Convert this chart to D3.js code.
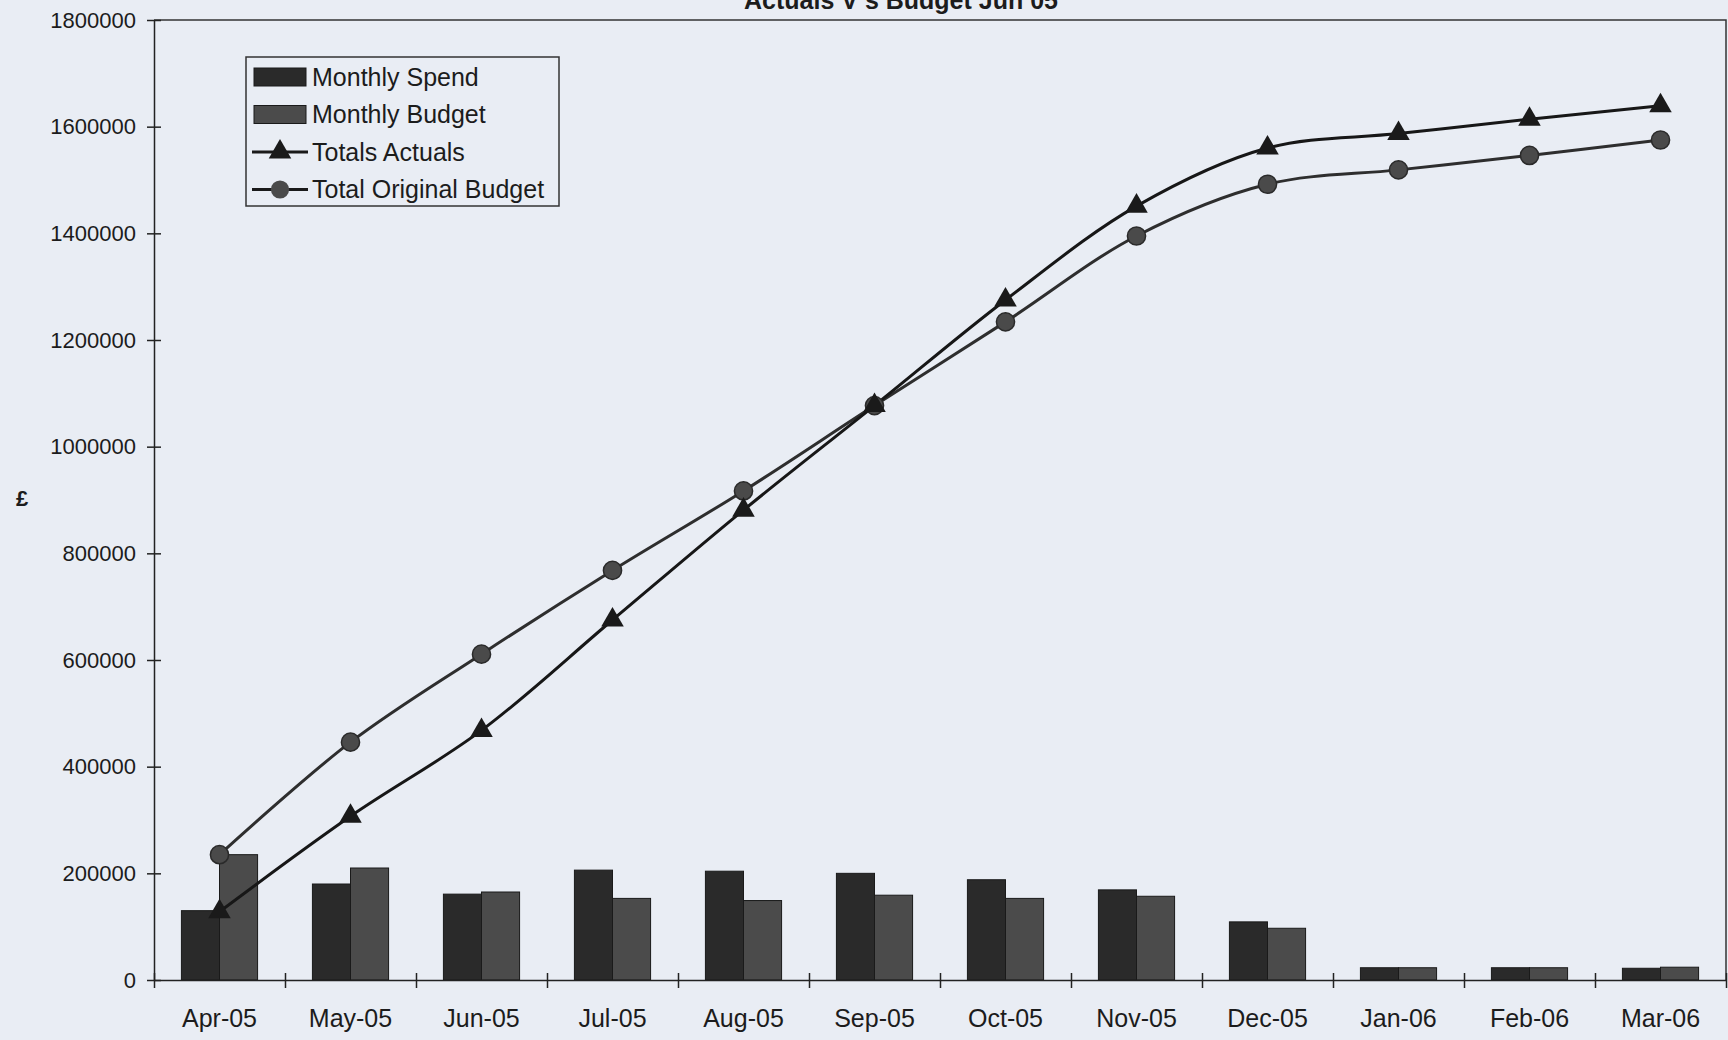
<!DOCTYPE html>
<html>
<head>
<meta charset="utf-8">
<script src="https://cdn.jsdelivr.net/npm/d3@7"></script>
<style>
  body { margin: 0; background: #e9edf4; }
  text { font-family: "Liberation Sans", Arial, sans-serif; fill: #1c1c1c; }
  .axis path, .axis line { stroke: #222; stroke-width: 1.5px; }
  .axis text { font-size: 22px; }
  .xlabels text { font-size: 25px; }
</style>
</head>
<body>
<div id="chart"></div>
<script>
// chart data
let months = ["Apr-05","May-05","Jun-05","Jul-05","Aug-05","Sep-05","Oct-05","Nov-05","Dec-05","Jan-06","Feb-06","Mar-06"];
let monthlySpend = [130000,180000,161000,206000,204000,200000,188000,169000,109000,23000,23000,22000];
let monthlyBudget = [235000,210000,165000,153000,149000,159000,153000,157000,97000,23000,23000,24000];
let totalsActuals = [128000,307000,468000,675000,881000,1077000,1275000,1451000,1560000,1587000,1614000,1639000];
let totalOriginalBudget = [235000,446000,611000,768000,917000,1077000,1234000,1395000,1492000,1519000,1546000,1575000];
let yTicks = [0,200000,400000,600000,800000,1000000,1200000,1400000,1600000,1800000];

let width = 1728, height = 1040;
let margin = {top: 20, right: 2, bottom: 60, left: 154};

let svg = d3.select("#chart").append("svg")
    .attr("width", width)
    .attr("height", height);

svg.append("rect")
    .attr("width", width)
    .attr("height", height)
    .attr("fill", "#e9edf4");

let x = d3.scaleBand()
    .domain(months)
    .range([margin.left, width - margin.right]);

let y = d3.scaleLinear()
    .domain([0, 1800000])
    .range([height - margin.bottom, margin.top]);

// bars sit in the middle of each band
let inner = d3.scaleBand()
    .domain(["spend", "budget"])
    .range([0, x.bandwidth()])
    .paddingOuter(0.72);

// plot frame (top and right)
svg.append("path")
    .attr("d", "M" + margin.left + "," + y(1800000) + "H" + (width - margin.right) + "V" + y(0))
    .attr("fill", "none")
    .attr("stroke", "#333")
    .attr("stroke-width", 1.5);

// title, cut off by the top of the image
svg.append("text")
    .attr("x", 901)
    .attr("y", 9)
    .attr("text-anchor", "middle")
    .style("font-size", "25px")
    .style("font-weight", "bold")
    .text("Actuals V s Budget Jun 05");

// bars
let barData = months.map((m, i) => ({month: m, spend: monthlySpend[i], budget: monthlyBudget[i]}));
let groups = svg.append("g").selectAll("g")
    .data(barData)
    .enter().append("g")
    .attr("transform", d => "translate(" + x(d.month) + ",0)");

groups.append("rect")
    .attr("x", inner("spend"))
    .attr("y", d => y(d.spend))
    .attr("width", inner.bandwidth())
    .attr("height", d => y(0) - y(d.spend))
    .attr("fill", "#2a2a2a")
    .attr("stroke", "#1a1a1a");

groups.append("rect")
    .attr("x", inner("budget"))
    .attr("y", d => y(d.budget))
    .attr("width", inner.bandwidth())
    .attr("height", d => y(0) - y(d.budget))
    .attr("fill", "#4b4b4b")
    .attr("stroke", "#1a1a1a");

// axes
let yAxis = d3.axisLeft(y)
    .tickValues(yTicks)
    .tickFormat(d3.format("d"))
    .tickSizeInner(7)
    .tickSizeOuter(0)
    .tickPadding(11);

let yG = svg.append("g").attr("class", "axis")
    .attr("transform", "translate(" + margin.left + ",0)")
    .call(yAxis);
// Excel style cross ticks
yG.selectAll(".tick line").attr("x1", 7);

let boundary = d3.scaleLinear().domain([0, months.length]).range(x.range());
let xTickG = svg.append("g").attr("class", "axis")
    .attr("transform", "translate(0," + y(0) + ")")
    .call(d3.axisBottom(boundary).tickValues(d3.range(months.length + 1)).tickFormat("").tickSizeInner(8).tickSizeOuter(0));
xTickG.selectAll(".tick line").attr("y1", -7);

svg.append("g").attr("class", "axis xlabels")
    .attr("transform", "translate(0," + y(0) + ")")
    .call(d3.axisBottom(x).tickSize(0).tickPadding(29))
    .call(g => g.select(".domain").remove());

// y axis title
svg.append("text")
    .attr("x", 22)
    .attr("y", 506)
    .attr("text-anchor", "middle")
    .style("font-size", "22px")
    .style("font-weight", "bold")
    .text("£");

// cumulative lines
let line = d3.line()
    .x((d, i) => x(months[i]) + x.bandwidth() / 2)
    .y(d => y(d))
    .curve(d3.curveCatmullRom.alpha(0.5));

svg.append("path")
    .datum(totalOriginalBudget)
    .attr("d", line)
    .attr("fill", "none")
    .attr("stroke", "#2e2e2e")
    .attr("stroke-width", 3);

svg.append("path")
    .datum(totalsActuals)
    .attr("d", line)
    .attr("fill", "none")
    .attr("stroke", "#171717")
    .attr("stroke-width", 3);

let circle = d3.symbol().type(d3.symbolCircle).size(260);
let triangle = d3.symbol().type(d3.symbolTriangle).size(220);

svg.append("g").selectAll("path")
    .data(totalOriginalBudget)
    .enter().append("path")
    .attr("d", circle)
    .attr("transform", (d, i) => "translate(" + (x(months[i]) + x.bandwidth() / 2) + "," + y(d) + ")")
    .attr("fill", "#4a4a4a")
    .attr("stroke", "#2a2a2a")
    .attr("stroke-width", 1.5);

svg.append("g").selectAll("path")
    .data(totalsActuals)
    .enter().append("path")
    .attr("d", triangle)
    .attr("transform", (d, i) => "translate(" + (x(months[i]) + x.bandwidth() / 2) + "," + y(d) + ")")
    .attr("fill", "#1a1a1a");

// legend
let legendItems = [
    {name: "Monthly Spend", kind: "bar", fill: "#2a2a2a"},
    {name: "Monthly Budget", kind: "bar", fill: "#4b4b4b"},
    {name: "Totals Actuals", kind: "triangle", fill: "#1a1a1a"},
    {name: "Total Original Budget", kind: "circle", fill: "#4a4a4a"}
];

let legend = svg.append("g").attr("transform", "translate(246,57)");
legend.append("rect")
    .attr("width", 313)
    .attr("height", 149)
    .attr("fill", "#e9edf4")
    .attr("stroke", "#333")
    .attr("stroke-width", 1.5);

let entry = legend.selectAll("g.entry")
    .data(legendItems)
    .enter().append("g")
    .attr("class", "entry")
    .attr("transform", (d, i) => "translate(0," + (20 + i * 37.5) + ")");

entry.filter(d => d.kind == "bar").append("rect")
    .attr("x", 8).attr("y", -9)
    .attr("width", 52).attr("height", 18)
    .attr("fill", d => d.fill)
    .attr("stroke", "#1a1a1a");

entry.filter(d => d.kind != "bar").append("line")
    .attr("x1", 6).attr("x2", 62)
    .attr("stroke", "#1a1a1a")
    .attr("stroke-width", 3);

entry.filter(d => d.kind != "bar").append("path")
    .attr("transform", "translate(34,0)")
    .attr("d", d => d.kind == "circle" ? circle() : triangle())
    .attr("fill", d => d.fill);

entry.append("text")
    .attr("x", 66)
    .attr("dy", "0.35em")
    .style("font-size", "25px")
    .text(d => d.name);
</script>
</body>
</html>
